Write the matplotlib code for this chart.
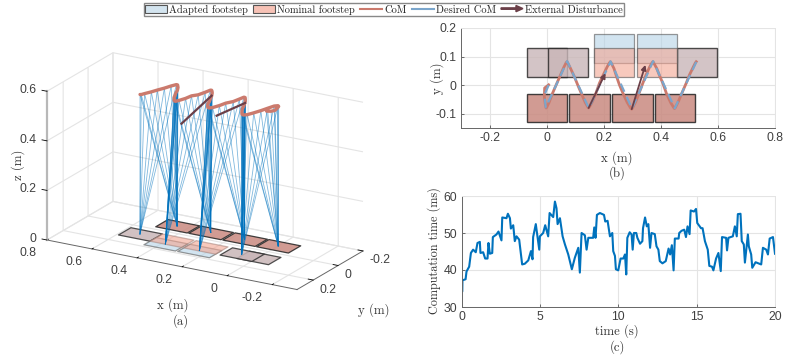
import matplotlib
matplotlib.use('Agg')
import matplotlib.pyplot as plt
import matplotlib.patches as mpatches
from matplotlib.legend_handler import HandlerPatch
from matplotlib.lines import Line2D
from mpl_toolkits.mplot3d import proj3d
from mpl_toolkits.mplot3d.art3d import Poly3DCollection

W, H = 785, 357
plt.rcParams['mathtext.fontset'] = 'cm'
plt.rcParams['axes.unicode_minus'] = False

# footsteps: x0, x1, y0, y1 (m)
stance_feet = [(-0.07, 0.071, -0.13, -0.031), (0.078, 0.221, -0.13, -0.031),
               (0.229, 0.372, -0.13, -0.031), (0.379, 0.519, -0.13, -0.031)]
swing_feet = [(-0.07, 0.07, 0.029, 0.129), (0.0035, 0.145, 0.029, 0.129),
              (0.456, 0.596, 0.029, 0.129)]
nominal_feet = [(0.165, 0.306, 0.029, 0.129), (0.316, 0.456, 0.029, 0.129)]
adapted_feet = [(0.165, 0.306, 0.079, 0.178), (0.316, 0.456, 0.079, 0.178)]

# where the legs meet the ground, in walking order
contact_x = [0.0, 0.0745, 0.15, 0.235, 0.30, 0.386, 0.449, 0.526]
contact_y = [-0.08, 0.079, -0.08, 0.128, -0.08, 0.128, -0.08, 0.079]

# CoM samples, and the walking segment each one is in
com_x = [0.007, -0.007, -0.008, -0.005, -0.002,
         0.000, 0.008, 0.020, 0.033, 0.047, 0.060, 0.068, 0.071,
         0.074, 0.083, 0.097, 0.110, 0.122, 0.135, 0.144, 0.147,
         0.150, 0.160, 0.172, 0.185, 0.198, 0.212, 0.220, 0.223,
         0.226, 0.236, 0.245, 0.255, 0.268, 0.282, 0.294, 0.298,
         0.301, 0.312, 0.325, 0.337, 0.348, 0.361, 0.369, 0.372,
         0.375, 0.386, 0.396, 0.407, 0.420, 0.435, 0.445, 0.448,
         0.451, 0.462, 0.475, 0.489, 0.500, 0.514, 0.521, 0.524]
com_y = [0.001, -0.010, -0.039, -0.065, -0.080,
         -0.078, -0.062, -0.030, 0.000, 0.032, 0.062, 0.078, 0.082,
         0.078, 0.060, 0.030, -0.002, -0.030, -0.060, -0.076, -0.080,
         -0.076, -0.058, -0.030, 0.007, 0.035, 0.064, 0.078, 0.082,
         0.078, 0.058, 0.030, 0.001, -0.030, -0.060, -0.080, -0.084,
         -0.080, -0.058, -0.025, 0.007, 0.035, 0.064, 0.078, 0.082,
         0.078, 0.058, 0.032, 0.007, -0.030, -0.062, -0.078, -0.082,
         -0.078, -0.056, -0.025, 0.007, 0.035, 0.064, 0.078, 0.082]
com_z = [0.566, 0.565, 0.560, 0.562, 0.563,
         0.566, 0.568, 0.566, 0.563, 0.561, 0.560, 0.562, 0.566,
         0.570, 0.573, 0.571, 0.567, 0.566, 0.565, 0.568, 0.572,
         0.574, 0.570, 0.566, 0.568, 0.564, 0.562, 0.563, 0.566,
         0.570, 0.572, 0.570, 0.575, 0.571, 0.572, 0.571, 0.573,
         0.574, 0.570, 0.567, 0.570, 0.566, 0.564, 0.563, 0.566,
         0.569, 0.570, 0.569, 0.568, 0.567, 0.566, 0.566, 0.568,
         0.570, 0.569, 0.567, 0.566, 0.565, 0.564, 0.563, 0.564]
com_seg = [0] * 5 + [0] * 8 + [1] * 8 + [2] * 8 + [3] * 8 + [4] * 8 + [5] * 8 + [6] * 8

# desired CoM turning points
des_x = [0.007, -0.008, -0.003, 0.072, 0.148, 0.224, 0.299, 0.373, 0.449, 0.525]
des_y = [0.000, -0.035, -0.078, 0.084, -0.081, 0.083, -0.082, 0.084, -0.081, 0.083]

# disturbances: tail and head
dist_x = [(0.147, 0.206), (0.298, 0.346)]
dist_y = [(-0.080, 0.042), (-0.084, 0.071)]
dist_z = [(0.550, 0.524), (0.551, 0.475)]

# computation time
time_s = [0, .05, .06, .26, .32, .49, .6, .74, .91, 1.02, 1.17, 1.21, 1.38, 1.51, 1.66, 1.72, 1.81, 1.96, 2.0,
          2.23, 2.36, 2.55, 2.6, 2.87, 2.96, 3.09, 3.15, 3.3, 3.4, 3.51, 3.68, 3.77, 3.87, 4.04, 4.26,
          4.43, 4.53, 4.57, 4.74, 4.83, 4.96, 5.0, 5.21, 5.34, 5.53, 5.62, 5.85, 5.96, 6.06, 6.13, 6.28,
          6.45, 6.6, 6.81, 7.04, 7.23, 7.45, 7.55, 7.66, 7.87, 7.98, 8.09, 8.4, 8.47, 8.55, 8.64, 8.83,
          9.09, 9.17, 9.32, 9.47, 9.62, 9.68, 9.79, 9.85, 10.0,
          10.15, 10.32, 10.43, 10.51, 10.58, 10.73, 10.85, 10.92, 11.0, 11.15, 11.22, 11.39, 11.54, 11.58,
          11.71, 11.82, 11.92, 12.03, 12.12, 12.33, 12.44, 12.56, 12.65, 12.82, 13.03, 13.21, 13.31, 13.42,
          13.53, 13.61, 13.85, 13.89, 14.04, 14.21, 14.32, 14.42, 14.55, 14.62, 14.83, 14.96, 15.04, 15.28,
          15.38, 15.53, 15.71, 15.81, 15.98, 16.07, 16.24, 16.39, 16.54, 16.62, 16.88, 16.94, 17.03, 17.31,
          17.44, 17.56, 17.63, 17.8, 17.88, 18.01, 18.08, 18.27, 18.33, 18.48, 18.55, 18.76, 19.12, 19.23,
          19.44, 19.55, 19.66, 19.87, 20.0]
comp_ms = [34.2, 34.2, 37.2, 37.5, 39.6, 40.9, 44.6, 45.5, 44.8, 47.3, 47.6, 44.6, 44.8, 43.1, 43.1, 47.3, 44.4, 44.6, 48.9,
           49.6, 50.4, 48.0, 54.2, 54.0, 55.2, 54.0, 51.2, 52.1, 47.8, 49.1, 48.2, 45.1, 41.5, 41.7, 42.6,
           45.1, 42.9, 48.9, 52.4, 49.6, 45.5, 49.1, 50.0, 52.1, 49.1, 55.4, 54.3, 58.5, 56.7, 52.4, 54.0,
           49.1, 46.9, 44.2, 40.2, 43.3, 46.0, 39.3, 50.0, 49.4, 45.5, 48.7, 48.7, 51.5, 48.7, 54.9, 55.4,
           54.9, 53.1, 53.3, 49.1, 50.0, 45.1, 43.8, 40.2, 39.9,
           43.1, 43.1, 44.2, 38.8, 48.7, 50.2, 49.6, 45.5, 50.0, 50.0, 48.7, 47.1, 47.8, 51.3,
           54.2, 51.8, 52.4, 46.0, 50.0, 49.7, 46.4, 45.5, 42.4, 41.8, 42.4, 45.8, 44.2, 46.7,
           39.9, 48.5, 48.5, 50.0, 50.6, 50.9, 48.9, 51.8, 49.7, 56.1, 55.8, 56.5, 52.7, 51.3,
           51.3, 47.8, 45.5, 41.1, 40.9, 39.9, 43.1, 44.6, 39.7, 48.9, 48.7, 45.3, 48.7, 49.1,
           51.8, 49.1, 55.1, 55.2, 47.8, 46.9, 42.0, 49.6, 46.4, 44.2, 40.6, 42.1, 41.5, 46.0,
           45.5, 44.2, 48.5, 48.9, 44.4]

x3_ticks = [0.8, 0.6, 0.4, 0.2, 0, -0.2]
x3_labels = ['0.8', '0.6', '0.4', '0.2', '0', '-0.2']
y3_ticks = [-0.2, 0, 0.2]
y3_labels = ['-0.2', '0', '0.2']
z3_ticks = [0, 0.2, 0.4, 0.6]
z3_labels = ['0', '0.2', '0.4', '0.6']

BLUE = '#0072BD'
COM = '#cb7a6d'
DES = '#7ba6cc'
ARROW = '#6b3f48'
GRID = '#e4e4e4'
TICKFONT = ['Liberation Sans', 'DejaVu Sans']
CM = ['cmr10', 'DejaVu Serif']

fig = plt.figure(figsize=(W / 100, H / 100), dpi=100)


def label(px, py, s, size=9.2, rot=0):
    fig.text(px / W, 1 - py / H, s, family=CM, fontsize=size, rotation=rot,
             ha='center', va='center', color='#333333')


def axes_px(x0, x1, ytop, ybot):
    return fig.add_axes([x0 / W, 1 - ybot / H, (x1 - x0) / W, (ybot - ytop) / H])


def style2d(ax):
    ax.grid(True, color=GRID, lw=0.8)
    ax.set_axisbelow(True)
    for s in ['top', 'right']:
        ax.spines[s].set_color(GRID)
    for s in ['left', 'bottom']:
        ax.spines[s].set_color('#666666')
    for s in ax.spines.values():
        s.set_linewidth(0.7)
    ax.tick_params(direction='in', length=2.5, width=0.6, color='#555555', labelcolor='#404040',
                   labelsize=8.8, pad=3)
    for t in ax.get_xticklabels() + ax.get_yticklabels():
        t.set_family(TICKFONT)


# ---- (a) 3d view
S = 500.0
ax3 = fig.add_axes([0.1, 0.1, S / W, S / H], projection='3d', computed_zorder=False)
ax3.patch.set_alpha(0)
ax3.set_proj_type('ortho')
ax3.view_init(elev=19.9, azim=120.2)
ax3.set_xlim(-0.31, 0.8, view_margin=0)
ax3.set_ylim(-0.2, 0.33, view_margin=0)
ax3.set_zlim(0, 0.6, view_margin=0)
ax3.set_box_aspect((289, 131, 158))


def ground(ax, rects, color, alpha, edge):
    for x0, x1, y0, y1 in rects:
        verts = [[(x0, y0, 0), (x1, y0, 0), (x1, y1, 0), (x0, y1, 0)]]
        ax.add_collection3d(Poly3DCollection(verts, facecolor=color, alpha=alpha, edgecolor=edge,
                                             linewidth=0.9, zorder=2))


ground(ax3, stance_feet, '#c98a80', 0.85, '#222222')
ground(ax3, swing_feet, '#c9b6b8', 0.85, '#333333')
ground(ax3, adapted_feet, '#b5d3e6', 0.6, '#555555')
ground(ax3, nominal_feet, '#f2a592', 0.6, '#aa8880')

for i in range(len(com_x)):
    seg = com_seg[i]
    for k in (seg, seg + 1) if i >= 5 else (0,):
        ax3.plot([com_x[i], contact_x[k]], [com_y[i], contact_y[k]], [com_z[i], 0],
                 color=BLUE, lw=0.6, alpha=0.5, zorder=3)
ax3.plot(com_x, com_y, com_z, color=COM, lw=2.4, zorder=5, solid_capstyle='round')
for dx, dy, dz in zip(dist_x, dist_y, dist_z):
    ax3.plot(dx, dy, dz, color=ARROW, lw=1.6, zorder=6)

ax3.set_xticks(x3_ticks, [''] * len(x3_ticks))
ax3.set_yticks(y3_ticks, [''] * len(y3_ticks))
ax3.set_zticks(z3_ticks, [''] * len(z3_ticks))
for axis in (ax3.xaxis, ax3.yaxis, ax3.zaxis):
    axis.set_pane_color((1, 1, 1, 0))
    axis.pane.set_edgecolor(GRID)
    axis._axinfo['grid'].update(color=GRID, linewidth=0.8)
    axis._axinfo['tick'].update(inward_factor=0.0, outward_factor=0.25)
    axis._axinfo['tick']['linewidth'] = {True: 0.6, False: 0.6}
    axis._axinfo['tick']['color'] = '#666666'
    axis.line.set_color('#666666')
    axis.line.set_linewidth(0.7)
ax3.zaxis.line.set_color('#b8b8b8')
ax3.zaxis.line.set_linewidth(1.6)
# z axis goes on the left corner
ax3.zaxis._axinfo['juggled'] = (1, 2, 0)


def corner_px(x, y, z):
    fig.canvas.draw()
    u, v, _ = proj3d.proj_transform(x, y, z, ax3.get_proj())
    p = ax3.transData.transform((u, v))
    return p[0], H - p[1]


# fit the box on its corners: left (x=.8, y=.33, z=0) at (47,240), right (x=-.31, y=-.2, z=0) at (363,250.7)
lx, ly = corner_px(0.8, 0.33, 0)
rx, ry = corner_px(-0.31, -0.2, 0)
k = (363 - 47) / (rx - lx)
pos = ax3.get_position()
left_px, bot_px = pos.x0 * W, pos.y0 * H
new_left = 47 - (lx - left_px) * k
new_bot = (H - 240) - ((H - ly) - bot_px) * k
ax3.set_position([new_left / W, new_bot / H, S * k / W, S * k / H])


def tick_text(x, y, z, s, dx, dy, ha):
    px, py = corner_px(x, y, z)
    fig.text((px + dx) / W, 1 - (py + dy) / H, s, family=TICKFONT, fontsize=8.8, color='#404040',
             ha=ha, va='center')


for v, s in zip(x3_ticks, x3_labels):
    tick_text(v, 0.33, 0, s, -10, 13.5, 'right')
for v, s in zip(y3_ticks, y3_labels):
    tick_text(-0.31, v, 0, s, 6.5, 9.5, 'left')
for v, s in zip(z3_ticks, z3_labels):
    tick_text(0.8, 0.33, v, s, -11, -1, 'right')

label(172.7, 305, 'x (m)')
label(181, 321, '(a)')
label(374, 310, 'y (m)')
label(18, 165, 'z (m)', rot=90)

# ---- (b) top view
axb = axes_px(461, 775, 28, 128)
for x0, x1, y0, y1 in stance_feet:
    axb.add_patch(mpatches.Rectangle((x0, y0), x1 - x0, y1 - y0, fc='#c98a80', ec='#222222', lw=1.0, alpha=0.85))
for x0, x1, y0, y1 in swing_feet:
    axb.add_patch(mpatches.Rectangle((x0, y0), x1 - x0, y1 - y0, fc='#c9b6b8', ec='#222222', lw=1.0, alpha=0.8))
for x0, x1, y0, y1 in adapted_feet:
    axb.add_patch(mpatches.Rectangle((x0, y0), x1 - x0, y1 - y0, fc='#b5d3e6', ec='#555555', lw=0.9, alpha=0.6))
for x0, x1, y0, y1 in nominal_feet:
    axb.add_patch(mpatches.Rectangle((x0, y0), x1 - x0, y1 - y0, fc='#f2a592', ec='#555555', lw=0.9, alpha=0.6))
axb.plot(com_x, com_y, color=COM, lw=2.0)
axb.plot(des_x, des_y, color=DES, lw=1.6, ls=(0, (4, 2.5)))
for dx, dy in zip(dist_x, dist_y):
    axb.annotate('', xy=(dx[1], dy[1]), xytext=(dx[0], dy[0]),
                 arrowprops=dict(arrowstyle='-|>', color=ARROW, lw=1.3, mutation_scale=7, shrinkA=0, shrinkB=0))
axb.set_xlim(-0.3, 0.8)
axb.set_ylim(-0.15, 0.2)
axb.set_xticks([-0.2, 0, 0.2, 0.4, 0.6, 0.8], ['-0.2', '0', '0.2', '0.4', '0.6', '0.8'])
axb.set_yticks([-0.1, 0, 0.1, 0.2], ['-0.1', '0', '0.1', '0.2'])
style2d(axb)
label(617, 158.5, 'x (m)')
label(617, 173, '(b)')
label(437, 78, 'y (m)', rot=90)

# ---- (c) computation time
axc = axes_px(461.5, 775, 196, 307)
axc.plot(time_s, comp_ms, color=BLUE, lw=1.5)
axc.set_xlim(0, 20)
axc.set_ylim(30, 60)
axc.set_xticks([0, 5, 10, 15, 20], ['0', '5', '10', '15', '20'])
axc.set_yticks([30, 40, 50, 60], ['30', '40', '50', '60'])
style2d(axc)
label(617, 331, 'time (s)')
label(617, 347, '(c)')
label(434, 251, 'Computation time (ms)', size=8.8, rot=90)


# ---- legend
def arrow_handle(legend, orig_handle, xdescent, ydescent, width, height, fontsize):
    return mpatches.FancyArrow(-xdescent, height / 2, width, 0, width=1.0, head_width=4.5, head_length=5,
                               length_includes_head=True, color=ARROW)


handles = [mpatches.Patch(fc='#d3e4ef', ec='#555555', lw=0.8),
           mpatches.Patch(fc='#f7c2b6', ec='#555555', lw=0.8),
           Line2D([], [], color=COM, lw=1.5),
           Line2D([], [], color=DES, lw=1.5),
           mpatches.Patch(color=ARROW)]
names = ['Adapted footstep', 'Nominal footstep', 'CoM', 'Desired CoM', 'External Disturbance']
leg = fig.legend(handles, names, ncol=5, loc='upper center', bbox_to_anchor=(384 / W, 1 - 3 / H),
                 fontsize=7.5, frameon=True, fancybox=False, framealpha=1, edgecolor='#888888',
                 handlelength=2.1, handleheight=0.8, handletextpad=0.2, columnspacing=0.5,
                 borderpad=0.15, borderaxespad=0,
                 handler_map={handles[4]: HandlerPatch(patch_func=arrow_handle)})
for t in leg.get_texts():
    t.set_family(CM)
    t.set_color('#222222')

fig.savefig('out.png', dpi=100)
